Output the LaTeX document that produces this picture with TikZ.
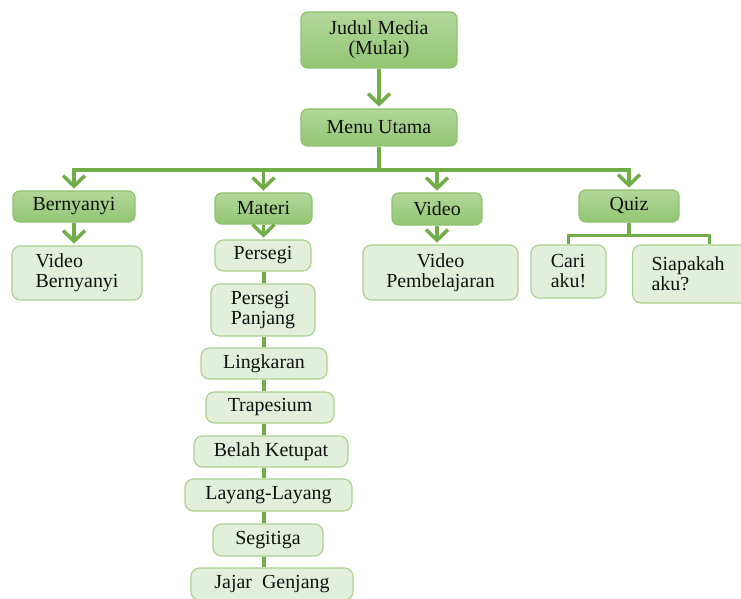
\documentclass[tikz,border=0pt]{standalone}
\usepackage{fontspec}
\setmainfont{Liberation Serif}
\usetikzlibrary{arrows.meta}
\definecolor{hijau}{HTML}{70AD47}
\definecolor{tepiGelap}{HTML}{8DC26C}
\definecolor{atasGelap}{HTML}{B3D79B}
\definecolor{bawahGelap}{HTML}{92C572}
\definecolor{tepiTerang}{HTML}{A9D18E}
\definecolor{isiTerang}{HTML}{E2EFDA}
\definecolor{teks}{HTML}{111111}
\tikzstyle{gelap} = [rectangle, rounded corners=0.2cm, draw=tepiGelap, line width=1pt, top color=atasGelap, bottom color=bawahGelap, text=teks, align=center, inner sep=0pt]
\tikzstyle{terang} = [rectangle, rounded corners=0.25cm, draw=tepiTerang, line width=1pt, fill=isiTerang, text=teks, align=left, inner sep=0pt]
\tikzstyle{garis} = [draw=hijau, line width=3pt]
\tikzstyle{panah} = [garis, -{Straight Barb[length=0.32cm,width=0.66cm]}, shorten >=1.5pt]

\begin{document}
\begin{tikzpicture}[x=0.03cm, y=-0.03cm, font=\fontsize{17}{17}\selectfont]
                \useasboundingbox (0,0) rectangle (741,599);
                \clip (0,0) rectangle (741,599);
                \node (judul) [gelap, minimum width=4.68cm, minimum height=1.68cm] at (379,40) {Judul Media\\(Mulai)};
                \node (menu) [gelap, minimum width=4.68cm, minimum height=1.11cm] at (379,127.5) {Menu Utama};

                \node (bernyanyi) [gelap, minimum width=3.66cm, minimum height=0.93cm] at (74,206.5) {Bernyanyi};
                \node (materi) [gelap, minimum width=2.91cm, minimum height=0.93cm] at (263.5,208.5) {Materi};
                \node (video) [gelap, minimum width=2.7cm, minimum height=0.96cm] at (437,209) {Video};
                \node (quiz) [gelap, minimum width=3cm, minimum height=0.96cm] at (629,206) {Quiz};

                \node (videoBernyanyi) [terang, minimum width=3.9cm, minimum height=1.62cm] at (77,273) {Video\\Bernyanyi};
                \node (videoPembelajaran) [terang, align=center, minimum width=4.65cm, minimum height=1.65cm] at (440.5,272.5) {Video\\Pembelajaran};
                \node (cari) [terang, minimum width=2.25cm, minimum height=1.59cm] at (568.5,271.5) {Cari\\aku!};
                \node (siapakah) [terang, anchor=west, text width=3.48cm, inner xsep=0.57cm, minimum height=1.74cm] at (632,274) {Siapakah\\aku?};

                \node (persegi) [terang, align=center, minimum width=2.88cm, minimum height=0.93cm] at (263,255.5) {Persegi};
                \node (persegiPanjang) [terang, minimum width=3.12cm, minimum height=1.56cm] at (263,310) {Persegi\\Panjang};
                \node (lingkaran) [terang, align=center, minimum width=3.78cm, minimum height=0.93cm] at (264,363.5) {Lingkaran};
                \node (trapesium) [terang, align=center, minimum width=3.84cm, minimum height=0.93cm] at (270,407.5) {Trapesium};
                \node (belahKetupat) [terang, align=center, minimum width=4.62cm, minimum height=0.93cm] at (271,451.5) {Belah Ketupat};
                \node (layang) [terang, align=center, minimum width=5.01cm, minimum height=0.96cm] at (268.5,495) {Layang-Layang};
                \node (segitiga) [terang, align=center, minimum width=3.3cm, minimum height=0.96cm] at (268,540) {Segitiga};
                \node (jajar) [terang, align=center, minimum width=4.86cm, minimum height=0.96cm] at (272,584) {Jajar~ Genjang};

                \coordinate (cabang) at (379,170);
                \draw[panah] (judul) -- (menu);
                \draw[garis] (menu.south) -- (cabang);
                \foreach \anak in {bernyanyi, materi, video, quiz}
                    \draw[panah] (cabang) -| (\anak.north);
                \draw[panah] (bernyanyi.south) -- (bernyanyi.south |- videoBernyanyi.north);
                \draw[panah] (video.south) -- (video.south |- videoPembelajaran.north);
                \draw[panah] (materi.south) -- (materi.south |- persegi.north);
                \foreach \a/\b in {persegi/persegiPanjang, persegiPanjang/lingkaran, lingkaran/trapesium, trapesium/belahKetupat, belahKetupat/layang, layang/segitiga, segitiga/jajar}
                    \draw[garis] (\a.south -| lingkaran.south) -- (\b.north -| lingkaran.south);
                \draw[garis] (quiz.south) -- ++(0,13) -| (cari.north);
                \draw[garis] (quiz.south) -- ++(0,13) -| (siapakah.north);
            \end{tikzpicture}
\end{document}
